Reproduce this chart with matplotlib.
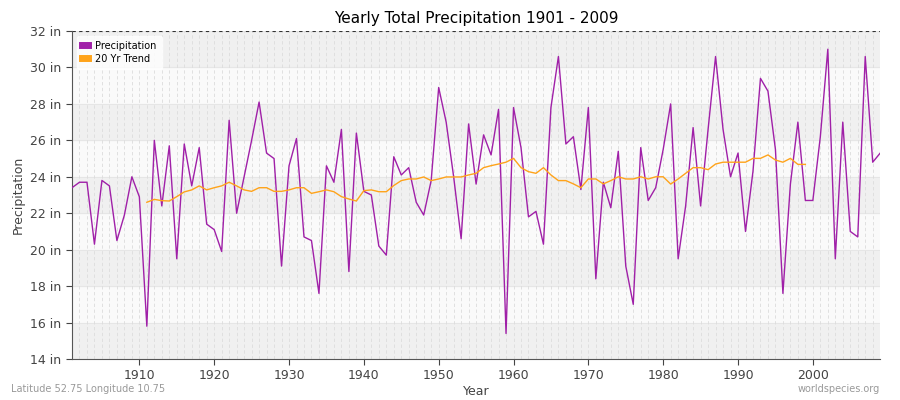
import matplotlib.pyplot as plt
import numpy as np

years = list(range(1901, 2010))
precip = [23.4, 23.7, 23.7, 20.3, 23.8, 23.5, 20.5, 21.9, 24.0, 22.9,
          15.8, 26.0, 22.4, 25.7, 19.5, 25.8, 23.5, 25.6, 21.4, 21.1,
          19.9, 27.1, 22.0, 24.0, 26.0, 28.1, 25.3, 25.0, 19.1, 24.6,
          26.1, 20.7, 20.5, 17.6, 24.6, 23.7, 26.6, 18.8, 26.4, 23.2,
          23.0, 20.2, 19.7, 25.1, 24.1, 24.5, 22.6, 21.9, 23.8, 28.9,
          27.0, 24.0, 20.6, 26.9, 23.6, 26.3, 25.2, 27.7, 15.4, 27.8,
          25.6, 21.8, 22.1, 20.3, 27.8, 30.6, 25.8, 26.2, 23.3, 27.8,
          18.4, 23.7, 22.3, 25.4, 19.1, 17.0, 25.6, 22.7, 23.4, 25.5,
          28.0, 19.5, 22.4, 26.7, 22.4, 26.6, 30.6, 26.6, 24.0, 25.3,
          21.0, 24.3, 29.4, 28.7, 25.5, 17.6, 23.6, 27.0, 22.7, 22.7,
          26.2, 31.0, 19.5, 27.0, 21.0, 20.7, 30.6, 24.8, 25.3]

trend_years = list(range(1911, 2000))
trend = [22.60, 22.76, 22.69, 22.67, 22.91, 23.17, 23.28, 23.50, 23.28, 23.40,
         23.50, 23.70, 23.50, 23.28, 23.20, 23.40, 23.40, 23.20, 23.20, 23.28,
         23.40, 23.40, 23.09, 23.18, 23.28, 23.18, 22.91, 22.78, 22.67, 23.24,
         23.28, 23.18, 23.18, 23.52, 23.79, 23.88, 23.88, 23.99, 23.79, 23.88,
         23.99, 23.99, 23.99, 24.10, 24.19, 24.50, 24.61, 24.70, 24.80, 25.01,
         24.50, 24.28, 24.19, 24.50, 24.10, 23.79, 23.79, 23.61, 23.40, 23.88,
         23.88, 23.61, 23.79, 24.00, 23.88, 23.88, 24.00, 23.88, 24.00, 24.00,
         23.60, 23.88, 24.19, 24.50, 24.50, 24.39, 24.70, 24.80, 24.80, 24.80,
         24.80, 25.01, 25.01, 25.20, 24.92, 24.80, 25.01, 24.68, 24.68]

y_ticks = [14, 16, 18, 20, 22, 24, 26, 28, 30, 32]
x_ticks = [1910, 1920, 1930, 1940, 1950, 1960, 1970, 1980, 1990, 2000]

fig = plt.figure(figsize=(9, 4), dpi=100)
ax = fig.add_axes([0.08, 0.1025, 0.898, 0.82])
ax.set_facecolor('#f4f4f4')

# alternating horizontal bands (darker band at the top)
for i, lo in enumerate(y_ticks[:-1]):
    ax.axhspan(lo, lo + 2, color='#f0f0f0' if i % 2 == 0 else '#fafafa', zorder=0)
for t in y_ticks:
    ax.axhline(t, color='#e6e6e6', lw=0.8, zorder=1)
for yr in range(1901, 2010):
    ax.axvline(yr, color='#dcdcdc', lw=0.6, ls=(0, (4, 3)), zorder=1)
ax.axhline(32, color='#333333', lw=0.8, ls=(0, (3, 3)), zorder=2)

ax.plot(years, precip, color='#a020a8', lw=1.0, zorder=3, label='Precipitation')
ax.plot(trend_years, trend, color='#ffa31a', lw=1.0, zorder=4, label='20 Yr Trend')

ax.set_xlim(1901, 2009)
ax.set_ylim(14, 32)
ax.set_yticks(y_ticks)
ax.set_yticklabels([f'{t} in' for t in y_ticks])
ax.set_xticks(x_ticks)
ax.tick_params(colors='#444444', labelsize=9, length=4)
for s in ['top', 'right']:
    ax.spines[s].set_visible(False)
for s in ['left', 'bottom']:
    ax.spines[s].set_color('#555555')

ax.set_xlabel('Year', fontsize=9, color='#444444', labelpad=2)
ax.set_ylabel('Precipitation', fontsize=9, color='#444444')
ax.set_title('Yearly Total Precipitation 1901 - 2009', fontsize=11, pad=6)

leg = ax.legend(loc='upper left', fontsize=7, frameon=True, handlelength=0.6,
                handleheight=0.6, borderpad=0.5, labelspacing=0.3)
leg.get_frame().set_edgecolor('white')
for h in leg.legend_handles:
    h.set_linewidth(5)

fig.text(0.012, 0.02, 'Latitude 52.75 Longitude 10.75', fontsize=7, color='#999999')
fig.text(0.978, 0.02, 'worldspecies.org', fontsize=7, color='#999999', ha='right')

fig.savefig('out.png', dpi=100)
